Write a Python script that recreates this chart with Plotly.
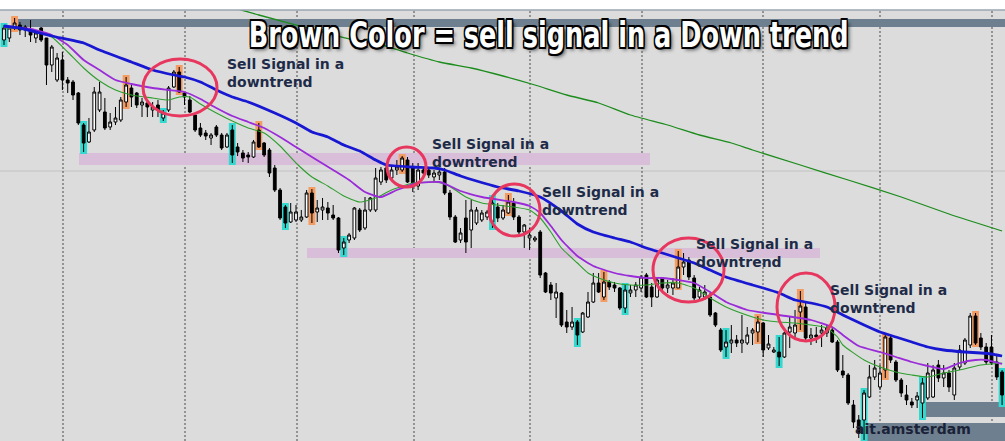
import plotly.graph_objects as go

# ---------------- data (price candles) ----------------
open_ = [1.1201, 1.1203, 1.1214, 1.1216, 1.1211, 1.1211, 1.1203, 1.1213, 1.1203, 1.1176,
         1.1161, 1.1181, 1.1161, 1.1159, 1.1148, 1.1116, 1.1099, 1.1111, 1.1131, 1.1129,
         1.1114, 1.1119, 1.1121, 1.1139, 1.1153, 1.1148, 1.1136, 1.1138, 1.1131, 1.1136,
         1.1123, 1.1131, 1.1154, 1.1169, 1.1148, 1.1141, 1.1126, 1.1113, 1.1108, 1.1103,
         1.1114, 1.1106, 1.1094, 1.1111, 1.1094, 1.1088, 1.1086, 1.1084, 1.1111, 1.1098,
         1.1091, 1.1073, 1.1051, 1.1034, 1.1019, 1.1021, 1.1021, 1.1024, 1.1048, 1.1029,
         1.1031, 1.1033, 1.1026, 1.1023, 1.0993, 1.1001, 1.1003, 1.1031, 1.1013, 1.1031,
         1.1031, 1.1059, 1.1073, 1.1063, 1.1071, 1.1071, 1.1081, 1.1074, 1.1055, 1.1071,
         1.1071, 1.1064, 1.1066, 1.1069, 1.1048, 1.1024, 1.1001, 1.1023, 1.1011, 1.1018,
         1.1021, 1.1024, 1.1019, 1.1034, 1.1023, 1.1028, 1.1038, 1.1024, 1.1009, 1.1003,
         1.1001, 1.1009, 1.0968, 1.0956, 1.0943, 1.0948, 1.0919, 1.0914, 1.0919, 1.0909,
         1.0924, 1.0939, 1.0958, 1.0944, 1.0959, 1.0956, 1.0953, 1.0933, 1.0948, 1.0951,
         1.0953, 1.0966, 1.0954, 1.0944, 1.0963, 1.0953, 1.0953, 1.0953, 1.0974, 1.0981,
         1.0963, 1.0944, 1.0944, 1.0944, 1.0928, 1.0911, 1.0894, 1.0898, 1.0901, 1.0898,
         1.0898, 1.0908, 1.0909, 1.0918, 1.0893, 1.0889, 1.0889, 1.0884, 1.0909, 1.0908,
         1.0929, 1.0934, 1.0903, 1.0906, 1.0908, 1.0908, 1.0911, 1.0899, 1.0870, 1.0866,
         1.0836, 1.0821, 1.0821, 1.0844, 1.0864, 1.0854, 1.0871, 1.0903, 1.0879, 1.0861,
         1.0846, 1.0839, 1.0841, 1.0838, 1.0843, 1.0844, 1.0876, 1.0863, 1.0868, 1.0846,
         1.0874, 1.0878, 1.0896, 1.0925, 1.0903, 1.0894, 1.0894, 1.0879, 1.0869]
high = [1.1216, 1.1214, 1.1223, 1.1219, 1.1216, 1.1221, 1.1209, 1.1214, 1.1203, 1.1196,
        1.1188, 1.1189, 1.1164, 1.1161, 1.1149, 1.1118, 1.1123, 1.1154, 1.1159, 1.1143,
        1.1128, 1.1134, 1.1144, 1.1164, 1.1156, 1.1149, 1.1143, 1.1141, 1.1139, 1.1141,
        1.1131, 1.1155, 1.1171, 1.1174, 1.1149, 1.1145, 1.1126, 1.1118, 1.1111, 1.1108,
        1.1116, 1.1108, 1.1108, 1.1116, 1.1098, 1.1091, 1.1089, 1.1101, 1.1118, 1.1099,
        1.1093, 1.1076, 1.1053, 1.1036, 1.1038, 1.1036, 1.1031, 1.1051, 1.1052, 1.1041,
        1.1043, 1.1039, 1.1036, 1.1024, 1.1003, 1.1008, 1.1034, 1.1033, 1.1044, 1.1044,
        1.1073, 1.1074, 1.1076, 1.1076, 1.1081, 1.1085, 1.1084, 1.1078, 1.1078, 1.1073,
        1.1073, 1.1071, 1.1071, 1.1073, 1.1051, 1.1026, 1.1013, 1.1041, 1.1041, 1.1034,
        1.1031, 1.1031, 1.1044, 1.1038, 1.1036, 1.1046, 1.1043, 1.1026, 1.1017, 1.1013,
        1.1005, 1.1011, 1.0969, 1.0959, 1.0958, 1.0949, 1.0931, 1.0934, 1.0921, 1.0929,
        1.0949, 1.0968, 1.0968, 1.0969, 1.0961, 1.0959, 1.0954, 1.0956, 1.0956, 1.0959,
        1.0966, 1.0968, 1.0958, 1.0964, 1.0964, 1.0961, 1.0963, 1.0990, 1.0988, 1.0984,
        1.0966, 1.0954, 1.0956, 1.0948, 1.0929, 1.0913, 1.0911, 1.0916, 1.0906, 1.0926,
        1.0914, 1.0913, 1.0925, 1.0919, 1.0906, 1.0894, 1.0904, 1.0909, 1.0924, 1.0931,
        1.0950, 1.0939, 1.0913, 1.0914, 1.0916, 1.0916, 1.0914, 1.0901, 1.0886, 1.0868,
        1.0841, 1.0826, 1.0851, 1.0876, 1.0881, 1.0876, 1.0906, 1.0906, 1.0881, 1.0863,
        1.0856, 1.0843, 1.0849, 1.0863, 1.0878, 1.0876, 1.0881, 1.0876, 1.0871, 1.0878,
        1.0896, 1.0903, 1.0928, 1.0928, 1.0908, 1.0898, 1.0906, 1.0886, 1.0871]
low = [1.1196, 1.1199, 1.1211, 1.1206, 1.1204, 1.1199, 1.1198, 1.1199, 1.1156, 1.1169,
       1.1159, 1.1151, 1.1148, 1.1141, 1.1116, 1.1089, 1.1098, 1.1109, 1.1129, 1.1111,
       1.1111, 1.1116, 1.1119, 1.1134, 1.1134, 1.1133, 1.1124, 1.1124, 1.1124, 1.1124,
       1.1120, 1.1129, 1.1153, 1.1148, 1.1136, 1.1128, 1.1109, 1.1104, 1.1101, 1.1096,
       1.1104, 1.1091, 1.1093, 1.1078, 1.1085, 1.1079, 1.1078, 1.1083, 1.1093, 1.1084,
       1.1064, 1.1049, 1.1021, 1.1013, 1.1018, 1.1019, 1.1019, 1.1023, 1.1018, 1.1019,
       1.1021, 1.1021, 1.1021, 1.0988, 1.0986, 1.0998, 1.1001, 1.1009, 1.1011, 1.1029,
       1.1029, 1.1056, 1.1058, 1.1061, 1.1066, 1.1069, 1.1058, 1.1049, 1.1051, 1.1064,
       1.1063, 1.1059, 1.1061, 1.1046, 1.1021, 1.0998, 1.0998, 1.0988, 1.0993, 1.1016,
       1.1019, 1.1021, 1.1013, 1.1019, 1.1021, 1.1027, 1.1021, 1.1007, 1.0993, 1.0991,
       1.0999, 1.0963, 1.0948, 1.0941, 1.0923, 1.0914, 1.0908, 1.0911, 1.0896, 1.0908,
       1.0923, 1.0938, 1.0948, 1.0941, 1.0951, 1.0949, 1.0931, 1.0928, 1.0944, 1.0944,
       1.0949, 1.0943, 1.0934, 1.0943, 1.0949, 1.0948, 1.0946, 1.0953, 1.0966, 1.0961,
       1.0941, 1.0941, 1.0941, 1.0924, 1.0914, 1.0889, 1.0884, 1.0888, 1.0894, 1.0888,
       1.0896, 1.0896, 1.0899, 1.0884, 1.0891, 1.0888, 1.0875, 1.0883, 1.0893, 1.0901,
       1.0911, 1.0901, 1.0896, 1.0898, 1.0894, 1.0904, 1.0898, 1.0869, 1.0863, 1.0836,
       1.0813, 1.0803, 1.0801, 1.0843, 1.0861, 1.0851, 1.0863, 1.0878, 1.0859, 1.0844,
       1.0836, 1.0833, 1.0833, 1.0823, 1.0841, 1.0843, 1.0859, 1.0854, 1.0849, 1.0841,
       1.0871, 1.0876, 1.0893, 1.0896, 1.0891, 1.0876, 1.0876, 1.0861, 1.0836]
close = [1.1213, 1.1213, 1.1218, 1.1211, 1.1214, 1.1206, 1.1208, 1.1201, 1.1176, 1.1194,
         1.1183, 1.1161, 1.1158, 1.1146, 1.1118, 1.1098, 1.1109, 1.1149, 1.1149, 1.1113,
         1.1119, 1.1123, 1.1141, 1.1156, 1.1144, 1.1136, 1.1139, 1.1134, 1.1134, 1.1131,
         1.1128, 1.1153, 1.1169, 1.1149, 1.1144, 1.1129, 1.1111, 1.1106, 1.1105, 1.1106,
         1.1106, 1.1093, 1.1106, 1.1086, 1.1089, 1.1083, 1.1084, 1.1099, 1.1094, 1.1086,
         1.1068, 1.1051, 1.1023, 1.1018, 1.1029, 1.1029, 1.1024, 1.1048, 1.1028, 1.1033,
         1.1034, 1.1028, 1.1023, 1.0991, 1.0999, 1.1006, 1.1033, 1.1011, 1.1031, 1.1043,
         1.1063, 1.1071, 1.1061, 1.1071, 1.1074, 1.1083, 1.1059, 1.1058, 1.1071, 1.1068,
         1.1066, 1.1068, 1.1069, 1.1048, 1.1024, 1.0999, 1.1008, 1.0999, 1.1031, 1.1031,
         1.1028, 1.1029, 1.1038, 1.1023, 1.1031, 1.1039, 1.1024, 1.1009, 1.1016, 1.1006,
         1.1003, 1.0966, 1.0949, 1.0948, 1.0949, 1.0916, 1.0914, 1.0919, 1.0906, 1.0928,
         1.0939, 1.0958, 1.0949, 1.0959, 1.0954, 1.0953, 1.0933, 1.0951, 1.0951, 1.0956,
         1.0964, 1.0944, 1.0944, 1.0961, 1.0953, 1.0956, 1.0958, 1.0974, 1.0979, 1.0964,
         1.0943, 1.0951, 1.0949, 1.0926, 1.0916, 1.0891, 1.0899, 1.0901, 1.0898, 1.0901,
         1.0906, 1.0911, 1.0919, 1.0891, 1.0897, 1.0891, 1.0884, 1.0908, 1.0914, 1.0916,
         1.0935, 1.0903, 1.0906, 1.0904, 1.0911, 1.0913, 1.0899, 1.0871, 1.0866, 1.0838,
         1.0819, 1.0808, 1.0848, 1.0864, 1.0873, 1.0868, 1.0904, 1.0881, 1.0861, 1.0848,
         1.0841, 1.0836, 1.0845, 1.0858, 1.0868, 1.0871, 1.0863, 1.0868, 1.0854, 1.0873,
         1.0891, 1.0901, 1.0925, 1.0898, 1.0894, 1.0879, 1.0878, 1.0864, 1.0846]
bar_index = list(range(len(open_)))

sell_signal_bars = [2, 23, 33, 48, 58, 75, 95, 113, 127, 142, 150, 166, 183]
buy_signal_bars = [0, 15, 30, 43, 53, 64, 92, 108, 117, 136, 146, 162, 173, 188]

# moving averages (read at selected bars)
ema_slow_x = [0, 3, 9, 15, 18, 24, 28, 32, 34, 37, 40, 43, 46, 51, 55, 58, 61, 64, 67, 70,
              72, 77, 81, 83, 86, 89, 93, 97, 101, 105, 108, 111, 115, 118, 121, 124, 127,
              130, 133, 136, 141, 143, 146, 149, 152, 155, 158, 162, 165, 168, 171, 174,
              177, 181, 184, 186, 188]
ema_slow = [1.1215, 1.1213, 1.1205, 1.1198, 1.1191, 1.1179, 1.1171, 1.1166, 1.1164, 1.1159,
            1.1151, 1.1144, 1.1139, 1.1128, 1.1118, 1.1109, 1.1104, 1.1096, 1.1090, 1.1081,
            1.1076, 1.1074, 1.1073, 1.1071, 1.1065, 1.1060, 1.1054, 1.1050, 1.1044, 1.1030,
            1.1017, 1.1009, 1.1003, 1.0999, 1.0993, 1.0988, 1.0983, 1.0978, 1.0971, 1.0964,
            1.0956, 1.0953, 1.0948, 1.0941, 1.0938, 1.0934, 1.0926, 1.0916, 1.0909, 1.0904,
            1.0899, 1.0894, 1.0891, 1.0889, 1.0888, 1.0887, 1.0885]

ema_mid_x = [0, 5, 9, 12, 15, 18, 21, 24, 28, 31, 34, 37, 40, 43, 46, 49, 52, 55, 58, 62,
             65, 68, 71, 74, 78, 82, 84, 86, 90, 96, 99, 101, 103, 105, 108, 111, 115, 118,
             121, 124, 127, 130, 133, 136, 140, 146, 152, 156, 158, 161, 165, 168, 171, 174,
             177, 180, 183, 185, 188]
ema_mid = [1.1214, 1.1212, 1.1206, 1.1196, 1.1181, 1.1171, 1.1161, 1.1157, 1.1153, 1.1151,
           1.1149, 1.1142, 1.1133, 1.1125, 1.1119, 1.1113, 1.1104, 1.1094, 1.1084, 1.1071,
           1.1061, 1.1049, 1.1044, 1.1051, 1.1058, 1.1059, 1.1055, 1.1050, 1.1044, 1.1039,
           1.1035, 1.1028, 1.1015, 1.1001, 1.0985, 1.0975, 1.0968, 1.0965, 1.0963, 1.0963,
           1.0961, 1.0958, 1.0949, 1.0939, 1.0931, 1.0926, 1.0921, 1.0914, 1.0906, 1.0895,
           1.0889, 1.0884, 1.0879, 1.0875, 1.0872, 1.0878, 1.0881, 1.0881, 1.0877]

ema_fast_x = [0, 5, 9, 12, 15, 18, 21, 24, 28, 31, 33, 35, 37, 40, 43, 46, 49, 52, 55, 58,
              61, 64, 67, 70, 73, 77, 81, 83, 85, 87, 90, 96, 99, 101, 103, 105, 108, 110,
              112, 115, 118, 121, 124, 127, 130, 133, 136, 141, 143, 146, 149, 152, 155, 157,
              158, 162, 165, 168, 171, 174, 177, 180, 184, 188]
ema_fast = [1.1213, 1.1211, 1.1204, 1.1189, 1.1173, 1.1160, 1.1151, 1.1146, 1.1143, 1.1141,
            1.1144, 1.1144, 1.1137, 1.1128, 1.1120, 1.1113, 1.1108, 1.1095, 1.1078, 1.1064,
            1.1055, 1.1045, 1.1039, 1.1043, 1.1051, 1.1058, 1.1059, 1.1057, 1.1051, 1.1044,
            1.1038, 1.1034, 1.1031, 1.1023, 1.1009, 1.0993, 1.0978, 1.0968, 1.0963, 1.0958,
            1.0956, 1.0956, 1.0958, 1.0958, 1.0953, 1.0943, 1.0934, 1.0924, 1.0921, 1.0919,
            1.0918, 1.0916, 1.0913, 1.0904, 1.0896, 1.0881, 1.0874, 1.0869, 1.0866, 1.0864,
            1.0868, 1.0871, 1.0876, 1.0878]

ma_long_x = [40, 44, 48, 60, 66, 70, 76, 82, 88, 94, 100, 106, 112, 118, 125, 131, 137, 141,
             150, 159, 169, 178, 188]
ma_long = [1.1237, 1.1232, 1.1226, 1.1209, 1.1201, 1.1198, 1.1188, 1.1179, 1.1173, 1.1165,
           1.1156, 1.1146, 1.1138, 1.1126, 1.1116, 1.1106, 1.1098, 1.1091, 1.1076, 1.1061,
           1.1044, 1.1027, 1.1010]

# ---------------- helpers for decorations (pixel -> axis units) ----------------
W, H, TOP = 1005, 441, 10
X0, DX = 4.0, 5.309
Y_LO, Y_HI = 1.0800, 1.1231
PAD = 0.0002  # visual padding of the signal highlight columns


def X(px):
    return (px - X0) / DX


def Y(py):
    return Y_HI - (py - TOP) * (Y_HI - Y_LO) / (H - TOP)


fig = go.Figure()

# signal highlight columns
fig.add_trace(go.Bar(
    x=sell_signal_bars,
    base=[low[i] - PAD for i in sell_signal_bars],
    y=[high[i] - low[i] + 2 * PAD for i in sell_signal_bars],
    width=1.3, marker=dict(color="#F39C64", line=dict(width=0)),
    showlegend=False, hoverinfo="skip"))
fig.add_trace(go.Bar(
    x=buy_signal_bars,
    base=[low[i] - PAD for i in buy_signal_bars],
    y=[high[i] - low[i] + 2 * PAD for i in buy_signal_bars],
    width=1.3, marker=dict(color="#33D8CE", line=dict(width=0)),
    showlegend=False, hoverinfo="skip"))

fig.add_trace(go.Candlestick(
    x=bar_index, open=open_, high=high, low=low, close=close,
    increasing=dict(line=dict(color="#000000", width=1), fillcolor="#FFFFFF"),
    decreasing=dict(line=dict(color="#000000", width=1), fillcolor="#000000"),
    whiskerwidth=0, showlegend=False))

fig.add_trace(go.Scatter(x=ma_long_x, y=ma_long, mode="lines",
                         line=dict(color="#1C8C1C", width=1.3, shape="spline", smoothing=0.5),
                         showlegend=False))
fig.add_trace(go.Scatter(x=ema_fast_x, y=ema_fast, mode="lines",
                         line=dict(color="#2E9E2E", width=1.1, shape="spline", smoothing=0.5),
                         showlegend=False))
fig.add_trace(go.Scatter(x=ema_mid_x, y=ema_mid, mode="lines",
                         line=dict(color="#9A2BD8", width=1.8, shape="spline", smoothing=0.5),
                         showlegend=False))
fig.add_trace(go.Scatter(x=ema_slow_x, y=ema_slow, mode="lines",
                         line=dict(color="#1818D2", width=2.8, shape="spline", smoothing=0.5),
                         showlegend=False))

shapes = []
SLATE = "#6E7F8F"
PINK = "#D9BEDA"
# zones
shapes.append(dict(type="rect", layer="below", x0=X(17), x1=X(1006), y0=Y(27), y1=Y(19),
                   fillcolor=SLATE, line=dict(width=0)))
shapes.append(dict(type="rect", layer="below", x0=X(79), x1=X(650), y0=Y(165), y1=Y(153),
                   fillcolor=PINK, line=dict(width=0)))
shapes.append(dict(type="rect", layer="below", x0=X(307), x1=X(820), y0=Y(258), y1=Y(248),
                   fillcolor=PINK, line=dict(width=0)))
shapes.append(dict(type="rect", layer="below", x0=X(923), x1=X(1006), y0=Y(417), y1=Y(402),
                   fillcolor=SLATE, line=dict(width=0)))
shapes.append(dict(type="rect", layer="below", x0=X(865), x1=X(1006), y0=Y(442), y1=Y(423),
                   fillcolor=SLATE, line=dict(width=0)))
# horizontal price line
shapes.append(dict(type="line", layer="below", xref="paper", x0=0, x1=1, y0=Y(171), y1=Y(171),
                   line=dict(color="#C2C2C2", width=1)))
# day separators
for px in [63, 185, 297, 414, 530, 642, 763, 880, 992]:
    shapes.append(dict(type="line", layer="below", yref="paper", x0=X(px), x1=X(px), y0=0, y1=1,
                       line=dict(color="#4A4A4A", width=1, dash="2px,2px")))
# top border
shapes.append(dict(type="line", xref="paper", yref="paper", x0=0, x1=1, y0=1, y1=1,
                   line=dict(color="#9AA6B2", width=1.5)))
# circles
for (cx0, cx1, cy0, cy1) in [(143, 217, 59, 116), (387, 426, 147, 187), (489, 540, 184, 236),
                             (653, 724, 238, 302), (777, 835, 273, 341)]:
    shapes.append(dict(type="circle", layer="above", x0=X(cx0), x1=X(cx1), y0=Y(cy1), y1=Y(cy0),
                       line=dict(color="#E8375F", width=3)))

annotations = []
annotations.append(dict(
    x=X(548), y=Y(34), xref="x", yref="y", showarrow=False,
    text="Brown Color = sell signal in a Down trend",
    xanchor="center", yanchor="middle",
    font=dict(family="DejaVu Sans Condensed, DejaVu Sans, sans-serif", size=36,
              color="#FFFFFF", weight="bold",
              shadow="1.5px 1.5px 0 #000, -1.5px -1.5px 0 #000, 1.5px -1.5px 0 #000, "
                     "-1.5px 1.5px 0 #000, 0 1.5px 0 #000, 0 -1.5px 0 #000, 1.5px 0 0 #000, "
                     "-1.5px 0 0 #000, 3px 3px 4px rgba(0,0,0,0.6)")))
for (tx, ty) in [(225, 72.5), (430, 153), (540, 200.5), (694, 252.5), (828, 299)]:
    annotations.append(dict(
        x=X(tx), y=Y(ty), xref="x", yref="y", showarrow=False,
        text="Sell Signal in a<br>downtrend", align="left",
        xanchor="left", yanchor="middle",
        font=dict(family="DejaVu Sans", size=14, color="#1E2B48", weight="bold")))
annotations.append(dict(
    x=X(853), y=Y(429), xref="x", yref="y", showarrow=False, text="ait.amsterdam",
    xanchor="left", yanchor="middle",
    font=dict(family="DejaVu Sans", size=14, color="#1A2238", weight="bold")))

fig.update_layout(
    width=W, height=H,
    margin=dict(l=0, r=0, t=TOP, b=0),
    paper_bgcolor="#FFFFFF", plot_bgcolor="#DCDCDC",
    barmode="overlay", boxgap=0.3, boxgroupgap=0.25,
    showlegend=False,
    xaxis=dict(range=[X(0), X(W)], visible=False, rangeslider=dict(visible=False),
               fixedrange=True),
    yaxis=dict(range=[Y_LO, Y_HI], visible=False, fixedrange=True),
    shapes=shapes, annotations=annotations,
)

post = """
document.body.style.margin = '0';
document.body.style.overflow = 'hidden';
var gd = document.getElementById('{plot_id}');
gd.querySelectorAll('.annotation-text').forEach(function (el) {
  if (el.textContent.indexOf('Brown') === 0) {
    var w = el.getBBox().width;
    var s = Math.min(1, 600 / w);
    el.style.transformBox = 'fill-box';
    el.style.transformOrigin = '50% 50%';
    el.style.transform = 'scaleX(' + s + ')';
  }
});
"""

fig.write_html("out.html", post_script=post, config={"displayModeBar": False})
